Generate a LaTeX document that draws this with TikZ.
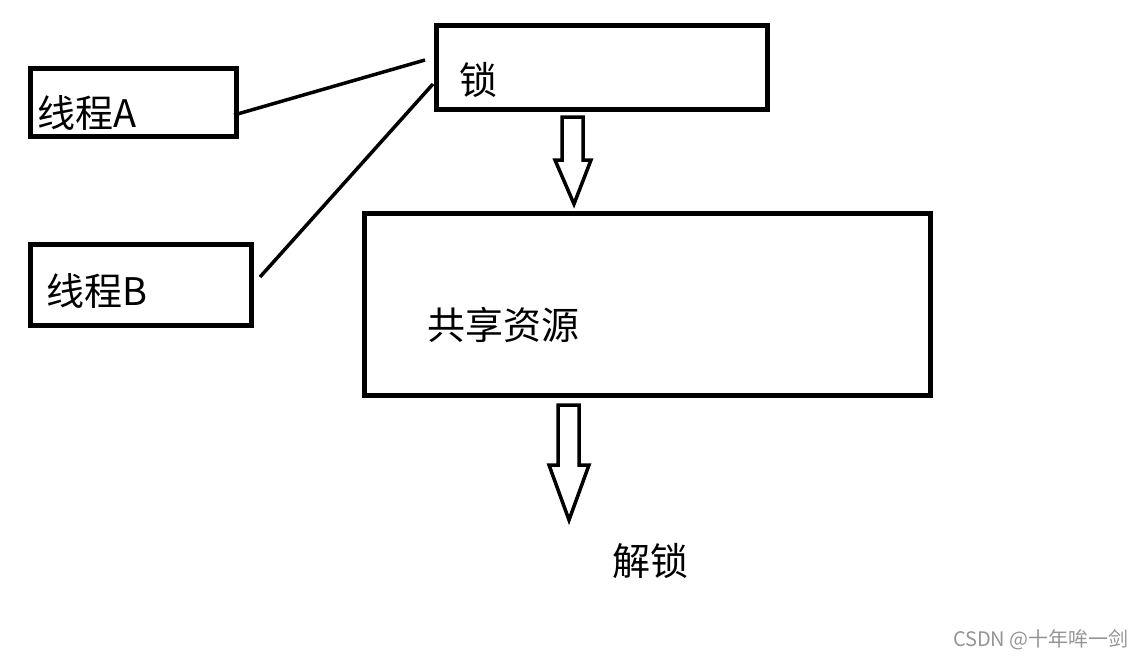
\documentclass[tikz,border=0pt]{standalone}
\usepackage{fontspec}
\setmainfont{Noto Sans CJK SC}
\usetikzlibrary{calc}
\begin{document}
\begin{tikzpicture}[x=1pt,y=-1pt,
  box/.style={draw=black,line width=4.5pt,inner sep=0pt,anchor=north west},
  conn/.style={draw=black,line width=3.5pt},
  hollow/.style={draw=black,line width=3.5pt,line join=miter,fill=white},
  lbl/.style={inner sep=0pt,font=\fontsize{38}{44}\selectfont},
  wm/.style={inner sep=0pt,text=black!42,font=\fontsize{20}{24}\selectfont}]
\useasboundingbox (0,0) rectangle (1143,659);
% boxes
\node[box,minimum width=206pt,minimum height=68pt] (ta) at (28,66) {};
\node[box,minimum width=221pt,minimum height=81pt] (tb) at (28,242) {};
\node[box,minimum width=331pt,minimum height=84pt] (lock) at (434,23) {};
\node[box,minimum width=566pt,minimum height=182pt] (res) at (362,211) {};
% labels
\node[lbl,anchor=west] (la) at (37,113) {线程A};
\node[lbl,anchor=west] (lb) at (46,291) {线程B};
\node[lbl] (ll) at (478,80) {锁};
\node[lbl] (lr) at (503,325) {共享资源};
\node[lbl] (lu) at (650,561) {解锁};
\node[wm,anchor=east] (w) at (1129,640) {CSDN @十年哞一剑};
% connectors
\coordinate (ca) at (425,60);
\coordinate (cb) at (433,84);
\coordinate (as) at (234,115);
\coordinate (bs) at (260,277);
\draw[conn] (as) -- (ca);
\draw[conn] (bs) -- (cb);
% hollow arrows
\coordinate (a1) at (562,117);
\coordinate (a2) at (558,405);
\draw[hollow] (a1) -- ++(21,0) -- ++(0,43) -- ++(8,0) -- (574,204) -- (555,160) -- ++(7,0) -- cycle;
\draw[hollow] (a2) -- ++(21,0) -- ++(0,60) -- ++(10,0) -- (569,520) -- (549,465) -- ++(9,0) -- cycle;
\end{tikzpicture}
\end{document}
